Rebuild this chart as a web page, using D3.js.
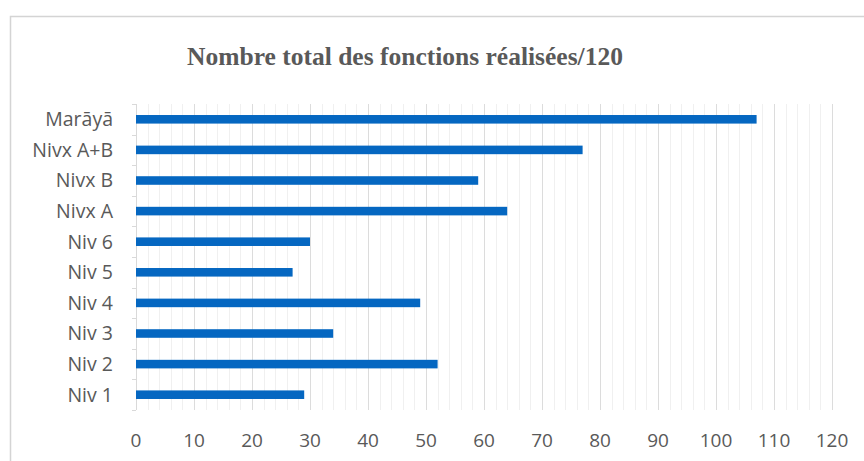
<!DOCTYPE html>
<html lang="fr">
<head>
    <meta charset="UTF-8">
    <title>Nombre total des fonctions réalisées</title>
    <style>
        body {
            margin: 0;
            background: #fff;
        }
        svg text {
            fill: #595959;
        }
    </style>
    <script src="https://cdn.jsdelivr.net/npm/d3@7"></script>
</head>
<body>
    <script>
        // Data
        const categories = ["Marāyā", "Nivx A+B", "Nivx B", "Nivx A", "Niv 6", "Niv 5", "Niv 4", "Niv 3", "Niv 2", "Niv 1"];
        const values = [107, 77, 59, 64, 30, 27, 49, 34, 52, 29];
        const xTicks = [0, 10, 20, 30, 40, 50, 60, 70, 80, 90, 100, 110, 120];
        const title = "Nombre total des fonctions réalisées/120";

        // Canvas
        const width = 864;
        const height = 461;
        const margin = { top: 104, right: 32, bottom: 51, left: 136 };

        const svg = d3.select("body").append("svg")
            .attr("width", width)
            .attr("height", height);

        // Chart frame (runs off the right and bottom of the picture)
        svg.append("rect")
            .attr("x", 10.5)
            .attr("y", 16.5)
            .attr("width", 900)
            .attr("height", 500)
            .attr("fill", "#fff")
            .attr("stroke", "#d4d4d4")
            .attr("stroke-width", 1.5);

        // Scales
        const x = d3.scaleLinear()
            .domain([0, 120])
            .range([margin.left, width - margin.right]);

        const y = d3.scaleBand()
            .domain(categories)
            .range([margin.top, height - margin.bottom])
            .paddingInner(0.72)
            .paddingOuter(0.36);

        const y0 = margin.top;
        const y1 = height - margin.bottom;

        // Minor gridlines every 2
        svg.append("g")
            .selectAll("line")
            .data(d3.range(0, 121, 2).filter(d => d % 10 !== 0))
            .join("line")
            .attr("x1", d => Math.round(x(d)) + 0.5)
            .attr("x2", d => Math.round(x(d)) + 0.5)
            .attr("y1", y0)
            .attr("y2", y1)
            .attr("stroke", "#f0f0f0");

        // Major gridlines
        svg.append("g")
            .selectAll("line")
            .data(xTicks.slice(1))
            .join("line")
            .attr("x1", d => Math.round(x(d)) + 0.5)
            .attr("x2", d => Math.round(x(d)) + 0.5)
            .attr("y1", y0)
            .attr("y2", y1)
            .attr("stroke", "#dcdcdc");

        // Y axis: line + ticks at band edges
        const yEdges = categories.map(c => y(c) - y.step() * y.paddingInner() / 2).concat([y1]);
        const yAxis = svg.append("g");
        yAxis.append("line")
            .attr("x1", x(0) + 0.5)
            .attr("x2", x(0) + 0.5)
            .attr("y1", y0)
            .attr("y2", y1)
            .attr("stroke", "#d9d9d9");
        yAxis.selectAll("line.tick")
            .data(yEdges)
            .join("line")
            .attr("class", "tick")
            .attr("x1", x(0) - 4)
            .attr("x2", x(0))
            .attr("y1", d => Math.round(d) + 0.5)
            .attr("y2", d => Math.round(d) + 0.5)
            .attr("stroke", "#d9d9d9");

        // Category labels
        svg.append("g")
            .selectAll("text")
            .data(categories)
            .join("text")
            .attr("x", 113)
            .attr("y", d => y(d) + y.bandwidth() / 2)
            .attr("dy", "0.35em")
            .attr("text-anchor", "end")
            .attr("font-family", "'Open Sans', sans-serif")
            .attr("font-size", 19.5)
            .text(d => d);

        // X tick labels
        svg.append("g")
            .selectAll("text")
            .data(xTicks)
            .join("text")
            .attr("x", d => x(d))
            .attr("y", 440)
            .attr("dy", "0.35em")
            .attr("text-anchor", "middle")
            .attr("font-family", "'Open Sans', sans-serif")
            .attr("font-size", 19)
            .text(d => d);

        // Bars
        svg.append("g")
            .selectAll("rect")
            .data(values)
            .join("rect")
            .attr("x", x(0))
            .attr("y", (d, i) => y(categories[i]))
            .attr("width", d => x(d) - x(0))
            .attr("height", y.bandwidth())
            .attr("fill", "#0567c1");

        // Title
        svg.append("text")
            .attr("x", 405)
            .attr("y", 65)
            .attr("text-anchor", "middle")
            .attr("font-family", "'Liberation Serif', 'Times New Roman', serif")
            .attr("font-weight", "bold")
            .attr("font-size", 25.5)
            .text(title);
    </script>
</body>
</html>
